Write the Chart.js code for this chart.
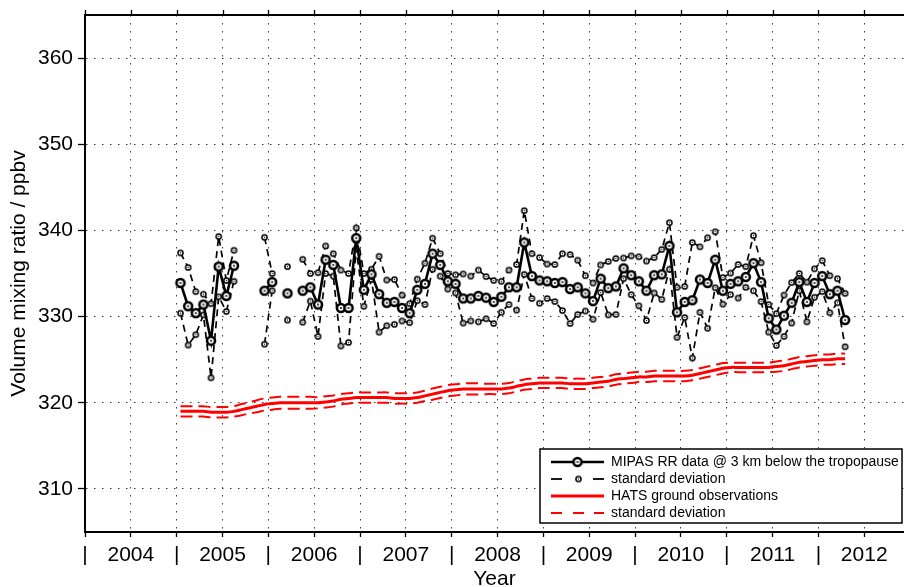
<!DOCTYPE html>
<html>
<head>
<meta charset="utf-8">
<script src="https://cdn.jsdelivr.net/npm/chart.js@4.4.1/dist/chart.umd.min.js"></script>
<style>
  html, body { margin: 0; padding: 0; background: #fff; overflow: hidden; }
  canvas { display: block; }
</style>
</head>
<body>
<canvas id="c" width="904" height="587"></canvas>
<script>
// Monthly series, January 2005 to April 2012 (null = no MIPAS data that month)
const firstYear = 2005;

const mipasMean = [
  333.9, 331.2, 330.4, 331.4, 327.2, 335.8, 332.4, 335.9, null, null, null, 333.0,  // 2005
  334.0, null, 332.7, null, 333.0, 333.4, 331.4, 336.6, 336.0, 331.0, 331.0, 339.1,  // 2006
  333.1, 334.9, 332.6, 331.6, 331.7, 331.0, 330.4, 333.1, 333.8, 337.3, 336.0, 334.1, // 2007
  333.8, 332.1, 332.1, 332.4, 332.2, 331.7, 332.3, 333.4, 333.4, 338.6, 334.7, 334.2, // 2008
  334.1, 333.9, 334.0, 333.2, 333.4, 332.7, 331.8, 334.4, 333.3, 333.5, 335.6, 334.8, // 2009
  334.1, 333.0, 334.8, 334.9, 338.2, 330.5, 331.7, 331.9, 334.3, 333.9, 336.6, 333.0, // 2010
  333.8, 334.1, 334.6, 336.2, 334.0, 329.8, 328.5, 330.1, 331.6, 334.0, 331.7, 333.9, // 2011
  334.7, 332.6, 333.0, 329.6                                                          // 2012
];

const mipasSd = [
  3.5, 4.5, 2.5, 1.2, 4.3, 3.5, 1.8, 1.8, null, null, null, 6.2,
  1.0, null, 3.1, null, 3.65, 1.6, 3.7, 1.6, 1.3, 4.4, 4.0, 1.2,
  1.9, 0.6, 4.4, 2.65, 2.6, 1.5, 1.1, 1.25, 2.4, 1.8, 1.3, 0.9,
  1.05, 2.85, 2.6, 3.0, 2.45, 2.5, 1.8, 2.0, 2.65, 3.7, 2.6, 2.65,
  2.0, 2.15, 3.3, 4.0, 3.15, 2.05, 2.1, 1.6, 3.1, 3.25, 1.2, 2.25,
  2.85, 3.45, 2.05, 2.9, 2.7, 2.9, 1.8, 6.7, 3.8, 5.25, 3.25, 1.55,
  1.25, 1.95, 1.2, 3.2, 2.25, 1.6, 1.85, 2.4, 2.35, 1.0, 2.3, 1.65,
  1.8, 2.15, 1.4, 3.1
];

const hatsMean = [
  319.0, 319.0, 319.0, 319.0, 318.9, 318.9, 318.9, 319.0, 319.2, 319.4, 319.6, 319.8,
  319.9, 320.0, 320.0, 320.0, 320.0, 320.0, 320.0, 320.1, 320.2, 320.4, 320.5, 320.6,
  320.6, 320.6, 320.6, 320.6, 320.5, 320.5, 320.5, 320.6, 320.8, 321.0, 321.2, 321.4,
  321.5, 321.6, 321.6, 321.6, 321.6, 321.6, 321.6, 321.7, 321.9, 322.1, 322.2, 322.3,
  322.3, 322.3, 322.3, 322.2, 322.2, 322.2, 322.3, 322.4, 322.5, 322.7, 322.8, 322.9,
  323.0, 323.0, 323.1, 323.1, 323.1, 323.1, 323.1, 323.2, 323.4, 323.6, 323.8, 324.0,
  324.1, 324.1, 324.1, 324.1, 324.1, 324.1, 324.2, 324.3, 324.5, 324.7, 324.8, 324.9,
  325.0, 325.0, 325.1, 325.1
];

const hatsSd = [
  0.6, 0.6, 0.6, 0.6, 0.6, 0.6, 0.6, 0.6, 0.65, 0.65, 0.7, 0.7,
  0.7, 0.7, 0.7, 0.7, 0.7, 0.7, 0.65, 0.65, 0.65, 0.6, 0.6, 0.6,
  0.6, 0.6, 0.6, 0.6, 0.6, 0.6, 0.6, 0.6, 0.6, 0.65, 0.65, 0.65,
  0.65, 0.65, 0.65, 0.65, 0.6, 0.6, 0.6, 0.6, 0.6, 0.6, 0.6, 0.6,
  0.6, 0.6, 0.6, 0.6, 0.6, 0.6, 0.6, 0.6, 0.6, 0.6, 0.6, 0.6,
  0.6, 0.6, 0.6, 0.6, 0.6, 0.6, 0.6, 0.6, 0.6, 0.6, 0.6, 0.6,
  0.55, 0.55, 0.55, 0.55, 0.55, 0.55, 0.6, 0.6, 0.6, 0.6, 0.6, 0.6,
  0.6, 0.6, 0.6, 0.6
];

const yearLabels = ['2004', '2005', '2006', '2007', '2008', '2009', '2010', '2011', '2012'];
const yTicks = [310, 320, 330, 340, 350, 360];

const legendLabels = [
  'MIPAS RR data @ 3 km below the tropopause',
  'standard deviation',
  'HATS ground observations',
  'standard deviation'
];

// ---- helpers ----
const FONT = "'Liberation Sans', Arial, Helvetica, sans-serif";
const monthX = i => firstYear + (i + 0.5) / 12;
const toPoints = arr => arr.map((v, i) => ({ x: monthX(i), y: v }));
const plusSd = (m, s, k) => m.map((v, i) => (v === null ? null : v + k * s[i]));

const firstTick = Number(yearLabels[0]);
// the time axis stops a little before the end of the last labelled year
const xMax = firstTick + yearLabels.length - 0.066;
const xTickValues = [];
yearLabels.forEach((_, i) => { xTickValues.push(firstTick + i, firstTick + i + 0.5); });

// ring markers with a dot in the middle
function ringMarker(r, lw, dot) {
  const s = Math.ceil(2 * (r + lw)) + 2;
  const c = document.createElement('canvas');
  c.width = s; c.height = s;
  const g = c.getContext('2d');
  g.beginPath();
  g.arc(s / 2, s / 2, r, 0, Math.PI * 2);
  g.fillStyle = '#fff';
  g.fill();
  g.lineWidth = lw;
  g.strokeStyle = '#000';
  g.stroke();
  g.beginPath();
  g.arc(s / 2, s / 2, dot, 0, Math.PI * 2);
  g.fillStyle = '#111';
  g.fill();
  return c;
}
const bigRing = ringMarker(4.0, 2.6, 1.0);
const smallRing = ringMarker(2.6, 1.5, 0.7);

// top frame line with outward tick marks
const topFrame = {
  id: 'topFrame',
  afterDraw(chart) {
    const { ctx, chartArea: a, scales: { x } } = chart;
    ctx.save();
    ctx.strokeStyle = '#000';
    ctx.lineWidth = 1.3;
    xTickValues.forEach(v => {
      const px = Math.round(x.getPixelForValue(v)) + 0.5;
      ctx.beginPath();
      ctx.moveTo(px, a.top - 5);
      ctx.lineTo(px, a.top);
      ctx.stroke();
    });
    ctx.lineWidth = 2;
    ctx.beginPath();
    ctx.moveTo(a.left - 1, a.top);
    ctx.lineTo(chart.width, a.top);
    ctx.stroke();
    ctx.restore();
  }
};

// legend box in the lower right corner
const boxLegend = {
  id: 'boxLegend',
  afterDraw(chart) {
    const ctx = chart.ctx;
    const L = 540, T = 449, R = 902, B = 523;
    ctx.save();
    ctx.fillStyle = '#fff';
    ctx.fillRect(L, T, R - L, B - T);
    ctx.strokeStyle = '#000';
    ctx.lineWidth = 1.5;
    ctx.strokeRect(L, T, R - L, B - T);

    const rows = [462, 479, 496, 513];
    const x0 = 551, x1 = 604, xm = 577.5;

    // row 1: solid black with big ring
    ctx.strokeStyle = '#000';
    ctx.lineWidth = 2.5;
    ctx.beginPath(); ctx.moveTo(x0, rows[0]); ctx.lineTo(x1, rows[0]); ctx.stroke();
    ctx.drawImage(bigRing, xm - bigRing.width / 2, rows[0] - bigRing.height / 2);

    // row 2: dashed black with small ring
    ctx.lineWidth = 1.8;
    ctx.beginPath(); ctx.moveTo(x0, rows[1]); ctx.lineTo(562, rows[1]); ctx.stroke();
    ctx.beginPath(); ctx.moveTo(593, rows[1]); ctx.lineTo(x1, rows[1]); ctx.stroke();
    ctx.drawImage(smallRing, xm + 1 - smallRing.width / 2, rows[1] - smallRing.height / 2);

    // row 3: solid red
    ctx.strokeStyle = '#ff0000';
    ctx.lineWidth = 3;
    ctx.beginPath(); ctx.moveTo(x0, rows[2]); ctx.lineTo(x1, rows[2]); ctx.stroke();

    // row 4: dashed red
    ctx.lineWidth = 2;
    [[551, 562], [573, 584], [594, 604]].forEach(([a, b]) => {
      ctx.beginPath(); ctx.moveTo(a, rows[3]); ctx.lineTo(b, rows[3]); ctx.stroke();
    });

    ctx.fillStyle = '#000';
    ctx.font = '14px ' + FONT;
    ctx.textBaseline = 'middle';
    ctx.textAlign = 'left';
    legendLabels.forEach((t, i) => ctx.fillText(t, 611, rows[i]));
    ctx.restore();
  }
};

const tickFont = { family: FONT, size: 21 };

new Chart(document.getElementById('c'), {
  type: 'line',
  data: {
    datasets: [
      {
        label: legendLabels[0],
        data: toPoints(mipasMean),
        borderColor: '#000',
        borderWidth: 2.6,
        pointStyle: bigRing,
        pointRadius: 4,
        spanGaps: false,
        tension: 0,
        fill: false
      },
      {
        label: legendLabels[1],
        data: toPoints(plusSd(mipasMean, mipasSd, 1)),
        borderColor: '#000',
        borderWidth: 1.7,
        borderDash: [7, 5],
        pointStyle: smallRing,
        pointRadius: 3,
        spanGaps: false,
        tension: 0,
        fill: false
      },
      {
        label: legendLabels[1],
        data: toPoints(plusSd(mipasMean, mipasSd, -1)),
        borderColor: '#000',
        borderWidth: 1.7,
        borderDash: [7, 5],
        pointStyle: smallRing,
        pointRadius: 3,
        spanGaps: false,
        tension: 0,
        fill: false
      },
      {
        label: legendLabels[2],
        data: toPoints(hatsMean),
        borderColor: '#ff0000',
        borderWidth: 3,
        pointRadius: 0,
        tension: 0.3,
        fill: false
      },
      {
        label: legendLabels[3],
        data: toPoints(plusSd(hatsMean, hatsSd, 1)),
        borderColor: '#ff0000',
        borderWidth: 2,
        borderDash: [12, 6],
        pointRadius: 0,
        tension: 0.3,
        fill: false
      },
      {
        label: legendLabels[3],
        data: toPoints(plusSd(hatsMean, hatsSd, -1)),
        borderColor: '#ff0000',
        borderWidth: 2,
        borderDash: [12, 6],
        pointRadius: 0,
        tension: 0.3,
        fill: false
      }
    ]
  },
  options: {
    responsive: false,
    animation: false,
    events: [],
    layout: { autoPadding: false, padding: { top: 15, right: 0, bottom: 0, left: 0 } },
    plugins: { legend: { display: false }, tooltip: { enabled: false } },
    scales: {
      x: {
        type: 'linear',
        min: firstTick,
        max: xMax,
        afterBuildTicks: s => { s.ticks = xTickValues.map(v => ({ value: v })); },
        afterFit: s => { s.height = 55; s.paddingLeft = 0; s.paddingRight = 0; },
        ticks: {
          callback: v => (Number.isInteger(v) ? '|' : yearLabels[Math.floor(v) - firstTick]),
          autoSkip: false,
          maxRotation: 0,
          minRotation: 0,
          padding: 6,
          color: '#000',
          font: tickFont
        },
        grid: {
          color: '#3a3a3a',
          lineWidth: 1,
          drawTicks: true,
          tickLength: 5,
          tickColor: '#000',
          tickWidth: 1.3,
          tickBorderDash: []
        },
        border: { display: true, color: '#000', width: 2, dash: [1.5, 6.5] },
        title: {
          display: true,
          text: 'Year',
          color: '#000',
          font: tickFont,
          padding: { top: 0, bottom: -5 }
        }
      },
      y: {
        type: 'linear',
        min: 305,
        max: 365,
        afterBuildTicks: s => { s.ticks = yTicks.map(v => ({ value: v })); },
        afterFit: s => { s.width = 85; s.paddingTop = 0; s.paddingBottom = 0; },
        ticks: { padding: 5, color: '#000', font: tickFont },
        grid: {
          color: '#3a3a3a',
          lineWidth: 1,
          drawTicks: true,
          tickLength: 7,
          tickColor: '#000',
          tickWidth: 1.3,
          tickBorderDash: []
        },
        border: { display: true, color: '#000', width: 2, dash: [1.5, 6.5] },
        title: {
          display: true,
          text: 'Volume mixing ratio / ppbv',
          color: '#000',
          font: tickFont,
          padding: { top: 7, bottom: 0 }
        }
      }
    }
  },
  plugins: [topFrame, boxLegend]
});
</script>
</body>
</html>
